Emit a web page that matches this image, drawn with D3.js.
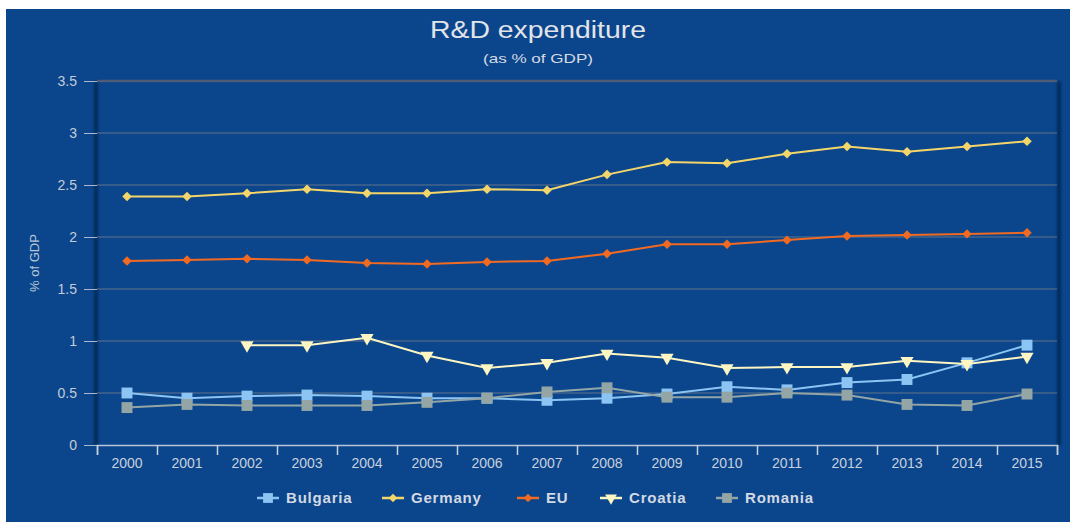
<!DOCTYPE html>
<html>
<head>
<meta charset="utf-8">
<script src="https://cdn.jsdelivr.net/npm/d3@7"></script>
<style>
  body { margin: 0; background: #fff; }
  svg { display: block; font-family: "Liberation Sans", Arial, sans-serif; }
</style>
</head>
<body>
<svg width="1070" height="522"></svg>
<script>
var years = ["2000","2001","2002","2003","2004","2005","2006","2007","2008","2009","2010","2011","2012","2013","2014","2015"];
var bulgaria = [0.50,0.45,0.47,0.48,0.47,0.45,0.45,0.43,0.45,0.49,0.56,0.53,0.60,0.63,0.79,0.96];
var germany  = [2.39,2.39,2.42,2.46,2.42,2.42,2.46,2.45,2.60,2.72,2.71,2.80,2.87,2.82,2.87,2.92];
var eu       = [1.77,1.78,1.79,1.78,1.75,1.74,1.76,1.77,1.84,1.93,1.93,1.97,2.01,2.02,2.03,2.04];
var croatia  = [null,null,0.96,0.96,1.03,0.86,0.74,0.79,0.88,0.84,0.74,0.75,0.75,0.81,0.78,0.85];
var romania  = [0.36,0.39,0.38,0.38,0.38,0.41,0.45,0.51,0.55,0.46,0.46,0.50,0.48,0.39,0.38,0.49];
var yTicks = [0,0.5,1,1.5,2,2.5,3,3.5];

var series = [
  {name: "Bulgaria", values: bulgaria, color: "#8cc5f3", symbol: "square"},
  {name: "Germany",  values: germany,  color: "#f3d56a", symbol: "diamond"},
  {name: "EU",       values: eu,       color: "#f26a22", symbol: "diamond"},
  {name: "Croatia",  values: croatia,  color: "#fdf6c3", symbol: "triangle"},
  {name: "Romania",  values: romania,  color: "#93a5a5", symbol: "square"}
];

var svg = d3.select("svg"),
    margin = {top: 81, right: 13, bottom: 77, left: 97},
    width = 1070 - margin.left - margin.right,
    height = 522 - margin.top - margin.bottom;

// background (white strip at left/top like the source screenshot)
svg.append("rect")
    .attr("x", 6).attr("y", 9)
    .attr("width", 1064).attr("height", 513)
    .attr("fill", "#0b468c");

var defs = svg.append("defs");
defs.append("filter").attr("id", "blur")
    .attr("x", "-200%").attr("width", "500%")
  .append("feGaussianBlur").attr("stdDeviation", 1.5);

var x = d3.scaleBand().domain(years).range([0, width]),
    xEdge = d3.scaleLinear().domain([0, years.length]).range([0, width]),
    y = d3.scaleLinear().domain([0, 3.5]).range([height, 0]);

svg.append("text")
    .attr("x", 538).attr("y", 38)
    .attr("text-anchor", "middle")
    .attr("textLength", 216)
    .attr("lengthAdjust", "spacingAndGlyphs")
    .style("font-size", "23px")
    .style("fill", "#e2e4ea")
    .text("R&D expenditure");

svg.append("text")
    .attr("x", 538).attr("y", 63)
    .attr("text-anchor", "middle")
    .attr("textLength", 110)
    .attr("lengthAdjust", "spacingAndGlyphs")
    .style("font-size", "13px")
    .style("fill", "#d6dbe4")
    .text("(as % of GDP)");

svg.append("text")
    .attr("transform", "translate(39," + (margin.top + height / 2) + ")rotate(-90)")
    .attr("text-anchor", "middle")
    .style("font-size", "13px")
    .style("fill", "#b9c6d8")
    .text("% of GDP");

var g = svg.append("g")
    .attr("transform", "translate(" + margin.left + "," + margin.top + ")");

// plot frame shadows
g.append("rect").attr("x", -3).attr("y", 0).attr("width", 4).attr("height", height)
    .attr("fill", "#052a58").attr("filter", "url(#blur)");
g.append("rect").attr("x", width).attr("y", 0).attr("width", 4).attr("height", height)
    .attr("fill", "#052a58").attr("filter", "url(#blur)");

// y axis with gridlines
var yAxis = g.append("g")
    .call(d3.axisLeft(y).tickValues(yTicks).tickSize(13).tickFormat(d3.format("")))
    .call(function(s) { s.select(".domain").remove(); });
yAxis.selectAll(".tick line").attr("stroke", "#a9b8cc");
yAxis.selectAll(".tick text")
    .attr("x", -20)
    .style("font-size", "14px")
    .style("fill", "#c3cbd8");

g.append("g")
  .selectAll("line")
  .data(yTicks.filter(function(d) { return d > 0; }))
  .enter().append("line")
    .attr("x1", 0).attr("x2", width)
    .attr("y1", function(d) { return y(d); })
    .attr("y2", function(d) { return y(d); })
    .attr("stroke", function(d) { return d === 3.5 ? "#4d5d76" : "#62728a"; })
    .attr("stroke-width", function(d) { return d === 3.5 ? 2.5 : 1; });

// x axis: tick marks between categories, labels centered
var xAxis = g.append("g")
    .attr("transform", "translate(0," + height + ")")
    .call(d3.axisBottom(xEdge).tickValues(d3.range(years.length + 1)).tickSize(10).tickFormat(""));
xAxis.select(".domain").attr("stroke", "#b9c4d6").attr("stroke-width", 1.5);
xAxis.selectAll(".tick line").attr("stroke", "#c9d1de").attr("stroke-width", 1.5);

g.append("g")
    .attr("transform", "translate(0," + height + ")")
  .selectAll("text")
  .data(years)
  .enter().append("text")
    .attr("x", function(d) { return x(d) + x.bandwidth() / 2; })
    .attr("y", 23)
    .attr("text-anchor", "middle")
    .style("font-size", "14px")
    .style("fill", "#c9d0dc")
    .text(function(d) { return d; });

// diamonds are squares turned 45 degrees, triangles point down
function symbolType(s) {
  if (s === "triangle") return d3.symbolTriangle;
  return d3.symbolSquare;
}
function symbolSize(s) {
  if (s === "square") return 120;
  if (s === "diamond") return 45;
  return 75;
}
function symbolRotate(s) {
  if (s === "triangle") return " rotate(180)";
  if (s === "diamond") return " rotate(45)";
  return "";
}

var line = d3.line()
    .defined(function(d) { return d.v !== null; })
    .x(function(d) { return x(d.year) + x.bandwidth() / 2; })
    .y(function(d) { return y(d.v); });

series.forEach(function(s) {
  var pts = years.map(function(yr, i) { return {year: yr, v: s.values[i]}; });
  var sg = g.append("g");
  sg.append("path")
      .datum(pts)
      .attr("fill", "none")
      .attr("stroke", s.color)
      .attr("stroke-width", 2)
      .attr("d", line);
  sg.selectAll("path.pt")
    .data(pts.filter(function(d) { return d.v !== null; }))
    .enter().append("path")
      .attr("class", "pt")
      .attr("transform", function(d) {
        return "translate(" + (x(d.year) + x.bandwidth() / 2) + "," + y(d.v) + ")" + symbolRotate(s.symbol);
      })
      .attr("d", d3.symbol().type(symbolType(s.symbol)).size(symbolSize(s.symbol)))
      .attr("fill", s.color);
});

// legend
var legendX = [257, 382, 517, 600, 716];
var legend = svg.append("g").attr("transform", "translate(0,498)");
series.forEach(function(s, i) {
  var lg = legend.append("g").attr("transform", "translate(" + legendX[i] + ",0)");
  lg.append("line")
      .attr("x1", 0).attr("x2", 22)
      .attr("stroke", s.color).attr("stroke-width", 2.5);
  lg.append("path")
      .attr("transform", "translate(11,0)" + symbolRotate(s.symbol))
      .attr("d", d3.symbol().type(symbolType(s.symbol)).size(symbolSize(s.symbol) * 0.8))
      .attr("fill", s.color);
  lg.append("text")
      .attr("x", 29).attr("y", 5)
      .style("font-size", "15px")
      .style("font-weight", "bold")
      .style("letter-spacing", "0.8px")
      .style("fill", "#d3d9e3")
      .text(s.name);
});
</script>
</body>
</html>
